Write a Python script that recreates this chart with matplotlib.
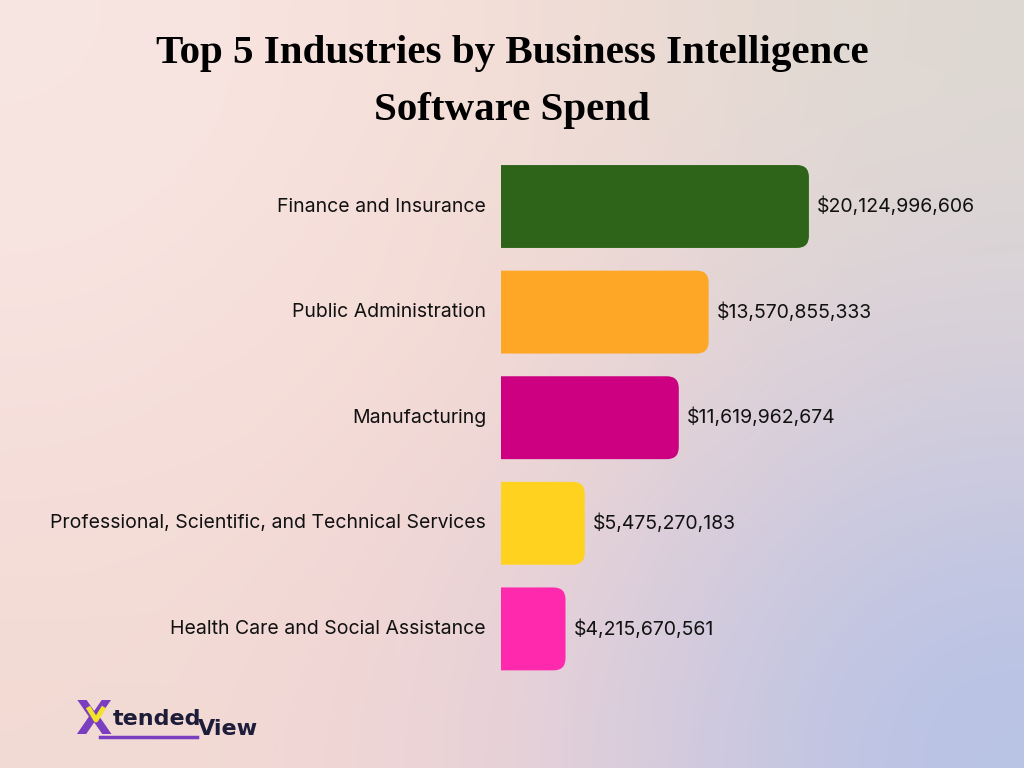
import numpy as np
import matplotlib
matplotlib.use("Agg")
import matplotlib.pyplot as plt
from matplotlib.path import Path
from matplotlib.patches import PathPatch
from matplotlib.lines import Line2D

industries = ["Finance and Insurance", "Public Administration", "Manufacturing",
              "Professional, Scientific, and Technical Services",
              "Health Care and Social Assistance"]
spend = [20124996606, 13570855333, 11619962674, 5475270183, 4215670561]
colors = ["#2e641a", "#fea726", "#cc0080", "#ffd220", "#ff29ad"]
title = "Top 5 Industries by Business Intelligence\nSoftware Spend"

W, H = 1024, 768
fig = plt.figure(figsize=(W / 100, H / 100), dpi=100)

# background gradient
bg = fig.add_axes([0, 0, 1, 1])
grid = np.array([
    [[248, 230, 227], [246, 221, 214], [222, 217, 210]],
    [[247, 225, 222], [245, 216, 208], [214, 206, 220]],
    [[243, 219, 212], [238, 210, 214], [182, 194, 230]],
]) / 255.0
bg.imshow(grid, extent=[0, 1, 0, 1], aspect="auto", interpolation="bicubic")
bg.set_xlim(0, 1)
bg.set_ylim(0, 1)
bg.axis("off")

# chart axes: x=501px is zero, 15.3 px per billion
ax = fig.add_axes([501 / W, 1 - 681.7 / H, 523 / W, 528 / H])
ax.patch.set_alpha(0)
xmax = 523 / 15.3
ax.set_xlim(0, xmax)
ax.set_ylim(4.5, -0.5)
ax.axis("off")

bh = 0.785
rx = 12 / 15.3
ry = 12 / 105.6
for i, (v, c) in enumerate(zip(spend, colors)):
    w = v / 1e9
    y0, y1 = i - bh / 2, i + bh / 2
    verts = [(0, y0), (w - rx, y0), (w, y0), (w, y0 + ry), (w, y1 - ry),
             (w, y1), (w - rx, y1), (0, y1), (0, y0)]
    codes = [Path.MOVETO, Path.LINETO, Path.CURVE3, Path.CURVE3, Path.LINETO,
             Path.CURVE3, Path.CURVE3, Path.LINETO, Path.CLOSEPOLY]
    ax.add_patch(PathPatch(Path(verts, codes), facecolor=c, edgecolor="none"))
    ax.text(w + 8 / 15.3, i, "${:,}".format(v), va="center", ha="left",
            fontsize=14, family="Inter", color="#111111")
    ax.text(-15 / 15.3, i, industries[i], va="center", ha="right",
            fontsize=14, family="Inter", color="#111111")

fig.text(0.5, 1 - 82 / H, title, ha="center", va="center", fontsize=29.5,
         family="Liberation Serif", weight="bold",
         linespacing=1.7, color="#000000")

# logo
fig.text(75 / W, 1 - 722 / H, "X", fontsize=34, weight="bold", color="#7a3fc0",
         family="DejaVu Sans", ha="left", va="center")
fig.add_artist(Line2D([88 / W, 96 / W, 104 / W], [1 - 707 / H, 1 - 720 / H, 1 - 707 / H],
                      transform=fig.transFigure, color="#f2e22a", lw=3.5,
                      solid_capstyle="butt", zorder=5))
fig.text(113 / W, 1 - 719 / H, "tended", fontsize=16, weight="bold", color="#1d1d3a",
         family="DejaVu Sans", ha="left", va="center")
fig.text(198 / W, 1 - 729 / H, "View", fontsize=16, weight="bold", color="#1d1d3a",
         family="DejaVu Sans", ha="left", va="center")
bg.plot([100 / W, 197 / W], [1 - 737 / H, 1 - 737 / H], color="#7a3fc0", lw=2.5)

fig.savefig("out.png", dpi=100)
